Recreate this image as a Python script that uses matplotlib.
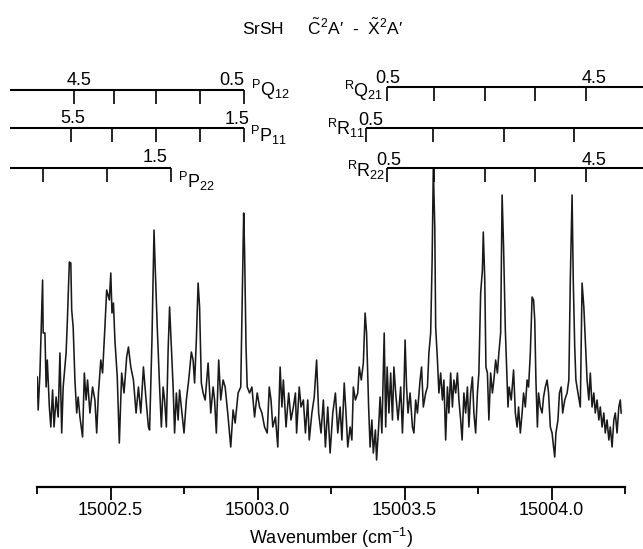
import matplotlib
matplotlib.use('Agg')
import matplotlib.pyplot as plt
import numpy as np

plt.rcParams['font.family'] = ['Liberation Sans', 'DejaVu Sans']
plt.rcParams['mathtext.fontset'] = 'custom'
plt.rcParams['mathtext.rm'] = 'Liberation Sans'
plt.rcParams['mathtext.it'] = 'Liberation Sans'

# spectrum: wavenumber offset from 15002 cm-1 and signal (arb. units)
wn_offset = [
    0.251, 0.254, 0.260, 0.269, 0.271, 0.277, 0.281, 0.285, 0.292, 0.297,
    0.303, 0.308, 0.315, 0.322, 0.328, 0.334, 0.339, 0.349, 0.353, 0.360,
    0.365, 0.368, 0.373, 0.379, 0.385, 0.390, 0.396, 0.405, 0.411, 0.417,
    0.422, 0.430, 0.439, 0.447, 0.453, 0.459, 0.467, 0.473, 0.481, 0.487,
    0.496, 0.501, 0.505, 0.510, 0.515, 0.523, 0.530, 0.538, 0.546, 0.555,
    0.561, 0.569, 0.578, 0.587, 0.595, 0.603, 0.612, 0.621, 0.629,
    0.633, 0.641, 0.648, 0.652, 0.659, 0.667, 0.673, 0.679, 0.684, 0.690,
    0.696, 0.701, 0.707, 0.713, 0.718, 0.724, 0.730, 0.735, 0.741, 0.750,
    0.758, 0.766, 0.775, 0.781, 0.786, 0.792, 0.798, 0.803, 0.809, 0.815,
    0.822, 0.832, 0.841, 0.849, 0.854, 0.860, 0.868, 0.875, 0.883, 0.890,
    0.900, 0.909, 0.917, 0.924, 0.934, 0.943, 0.948, 0.953, 0.956, 0.961,
    0.965, 0.973, 0.981, 0.990, 0.999, 1.007, 1.015, 1.024, 1.033,
    1.040, 1.046, 1.052, 1.061, 1.069, 1.077, 1.083, 1.088, 1.097, 1.106,
    1.114, 1.122, 1.129, 1.133, 1.142, 1.148, 1.156, 1.163, 1.171, 1.176,
    1.185, 1.193, 1.201, 1.208, 1.216, 1.224, 1.231, 1.239, 1.247, 1.256,
    1.265, 1.273, 1.281, 1.287, 1.295, 1.301, 1.307, 1.315, 1.321, 1.326,
    1.333, 1.341, 1.346, 1.353, 1.360, 1.366, 1.371, 1.378, 1.383, 1.389,
    1.394, 1.401, 1.405, 1.412, 1.417, 1.423, 1.431,
    1.436, 1.441, 1.447, 1.453, 1.459, 1.464, 1.470, 1.478, 1.487, 1.493,
    1.498, 1.502, 1.507, 1.512, 1.519, 1.527, 1.532, 1.538, 1.544, 1.553,
    1.558, 1.564, 1.572, 1.578, 1.583, 1.589, 1.594, 1.598, 1.603, 1.606,
    1.612, 1.617, 1.623, 1.629, 1.634, 1.640, 1.646, 1.651, 1.657, 1.663,
    1.668, 1.674, 1.680, 1.685, 1.691, 1.696, 1.702, 1.708, 1.714, 1.719,
    1.725, 1.731, 1.736, 1.742, 1.748, 1.753, 1.759, 1.765, 1.768, 1.773,
    1.777, 1.782, 1.787, 1.793, 1.799, 1.804, 1.810, 1.816, 1.821, 1.827,
    1.832, 1.837, 1.843, 1.849, 1.852, 1.856, 1.863, 1.871, 1.877, 1.883,
    1.888, 1.894, 1.900, 1.905, 1.911, 1.917, 1.922, 1.928, 1.934, 1.939,
    1.943, 1.947, 1.952, 1.956, 1.962, 1.968, 1.973, 1.979, 1.985, 1.990,
    1.996, 2.002, 2.007, 2.011, 2.015, 2.022, 2.027, 2.033, 2.038, 2.045,
    2.053, 2.059, 2.064, 2.070, 2.074, 2.079, 2.083, 2.090, 2.098, 2.104,
    2.110, 2.115, 2.121, 2.127, 2.132, 2.138, 2.144, 2.149, 2.155, 2.161,
    2.166, 2.172, 2.178, 2.183, 2.189, 2.195, 2.200, 2.206, 2.212, 2.217,
    2.223, 2.229, 2.234, 2.237,
]
signal = [
    93, 60, 97, 190, 137, 137, 83, 110, 63, 43,
    80, 43, 73, 53, 117, 37, 83, 117, 147, 208,
    207, 160, 143, 90, 57, 73, 53, 33, 97, 70,
    90, 57, 83, 70, 37, 77, 110, 97, 143, 180,
    170, 197, 157, 167, 130, 93, 27, 97, 77, 113,
    123, 103, 90, 57, 83, 57, 103, 70, 43,
    40, 130, 240, 203, 143, 83, 43, 83, 70, 43,
    120, 163, 123, 83, 37, 77, 50, 80, 63, 37,
    70, 90, 118, 110, 87, 130, 187, 163, 87, 77,
    70, 107, 57, 83, 70, 37, 110, 70, 90, 83,
    53, 23, 60, 47, 77, 83, 170, 257, 220, 123,
    83, 77, 83, 53, 77, 63, 57, 43, 37,
    83, 70, 43, 53, 23, 103, 63, 90, 43, 77,
    50, 63, 77, 37, 83, 63, 70, 37, 70, 30,
    57, 73, 110, 57, 37, 70, 23, 63, 17, 57,
    77, 37, 63, 30, 87, 57, 23, 43, 30, 83,
    70, 77, 103, 90, 107, 157, 137, 63, 23, 50,
    17, 40, 10, 43, 73, 37, 137,
    43, 103, 57, 97, 50, 103, 77, 50, 83, 37,
    77, 130, 83, 57, 77, 43, 37, 70, 57, 90,
    103, 63, 77, 83, 117, 137, 210, 302, 243, 143,
    110, 77, 97, 70, 90, 30, 83, 57, 97, 63,
    90, 77, 97, 70, 50, 30, 77, 57, 83, 43,
    77, 93, 57, 37, 77, 97, 177, 200, 238, 190,
    103, 97, 50, 97, 77, 90, 110, 97, 117, 137,
    275, 223, 140, 90, 63, 83, 70, 100, 57, 43,
    63, 37, 57, 77, 63, 90, 83, 117, 173, 170,
    150, 90, 43, 77, 63, 57, 73, 83, 90, 77,
    43, 37, 23, 13, 37, 50, 77, 83, 57, 70,
    77, 90, 190, 275, 190, 123, 90, 77, 63, 187,
    163, 130, 90, 70, 97, 63, 77, 57, 70, 50,
    63, 43, 57, 37, 50, 30, 43, 23, 50, 57,
    37, 63, 70, 57,
]

# rotational line assignments (cm-1)
pq12_lines = [15002.376, 15002.512, 15002.655, 15002.804, 15002.954]
pp11_lines = [15002.366, 15002.505, 15002.655, 15002.804, 15002.954]
pp22_lines = [15002.270, 15002.488, 15002.706]
rq21_lines = [15003.440, 15003.600, 15003.774, 15003.944, 15004.117]
rr11_lines = [15003.369, 15003.597, 15003.838, 15004.077]
rr22_lines = [15003.440, 15003.600, 15003.774, 15003.944, 15004.117]

tick_vals = [15002.5, 15003.0, 15003.5, 15004.0]
tick_labels = ['15002.5', '15003.0', '15003.5', '15004.0']
minor_vals = [15002.25, 15002.75, 15003.25, 15003.75, 15004.25]

wn = 15002.0 + np.array(wn_offset)

fig = plt.figure(figsize=(6.43, 5.49), dpi=100)
ax = fig.add_axes([37 / 643, 62 / 549, 588 / 643, 322 / 549])
ax.plot(wn, signal, color='#1a1a1a', lw=1.15)
ax.set_xlim(15002.25, 15004.25)
ax.set_ylim(-17, 305)

for s in ['left', 'right', 'top']:
    ax.spines[s].set_visible(False)
ax.spines['bottom'].set_linewidth(1.6)
ax.set_yticks([])
ax.set_xticks(tick_vals)
ax.set_xticklabels(tick_labels)
ax.set_xticks(minor_vals, minor=True)
ax.tick_params(axis='x', which='major', length=9, width=1.3, labelsize=13, pad=1.5)
ax.tick_params(axis='x', which='minor', length=5, width=1.3)
ax.set_xlabel('Wavenumber (cm$^{-1}$)', fontsize=13, labelpad=5)

left_end, right_end = 15002.158, 15004.311


def ladder(lines, y, x0, x1, tick_len=14):
    ax.plot([x0, x1], [y, y], color='k', lw=1.5, clip_on=False,
            solid_capstyle='butt')
    ax.vlines(lines, y - tick_len, y, color='k', lw=1.2, clip_on=False)


ladder(pq12_lines, 380, left_end, pq12_lines[-1])
ladder(pp11_lines, 342, left_end, pp11_lines[-1])
ladder(pp22_lines, 302, left_end, pp22_lines[-1])
ladder(rq21_lines, 383, rq21_lines[0], right_end)
ladder(rr11_lines, 342, rr11_lines[0], right_end)
ladder(rr22_lines, 302, rr22_lines[0], right_end)

fs = 13
kw = dict(ha='center', va='baseline', fontsize=fs)
ax.text(15002.393, 385, '4.5', **kw)
ax.text(15002.913, 385, '0.5', **kw)
ax.text(15002.372, 347, '5.5', **kw)
ax.text(15002.930, 346, '1.5', **kw)
ax.text(15002.651, 308, '1.5', **kw)
ax.text(15003.444, 387, '0.5', **kw)
ax.text(15004.145, 387, '4.5', **kw)
ax.text(15003.386, 345, '0.5', **kw)
ax.text(15003.447, 305, '0.5', **kw)
ax.text(15004.145, 305, '4.5', **kw)

ax.text(15002.978, 374, r'$^{\mathrm{P}}\mathrm{Q}_{12}$', ha='left', va='baseline', fontsize=fs)
ax.text(15002.974, 328, r'$^{\mathrm{P}}\mathrm{P}_{11}$', ha='left', va='baseline', fontsize=fs)
ax.text(15002.730, 282, r'$^{\mathrm{P}}\mathrm{P}_{22}$', ha='left', va='baseline', fontsize=fs)
ax.text(15003.427, 373, r'$^{\mathrm{R}}\mathrm{Q}_{21}$', ha='right', va='baseline', fontsize=fs)
ax.text(15003.366, 335, r'$^{\mathrm{R}}\mathrm{R}_{11}$', ha='right', va='baseline', fontsize=fs)
ax.text(15003.434, 293, r'$^{\mathrm{R}}\mathrm{R}_{22}$', ha='right', va='baseline', fontsize=fs)

fig.text(0.502, 1 - 28 / 549,
         'SrSH     $\\tilde{\\mathrm{C}}^{2}$A\u2032  -  $\\tilde{\\mathrm{X}}^{2}$A\u2032',
         ha='center', va='center', fontsize=12.5)

fig.savefig('out.png', dpi=100)
